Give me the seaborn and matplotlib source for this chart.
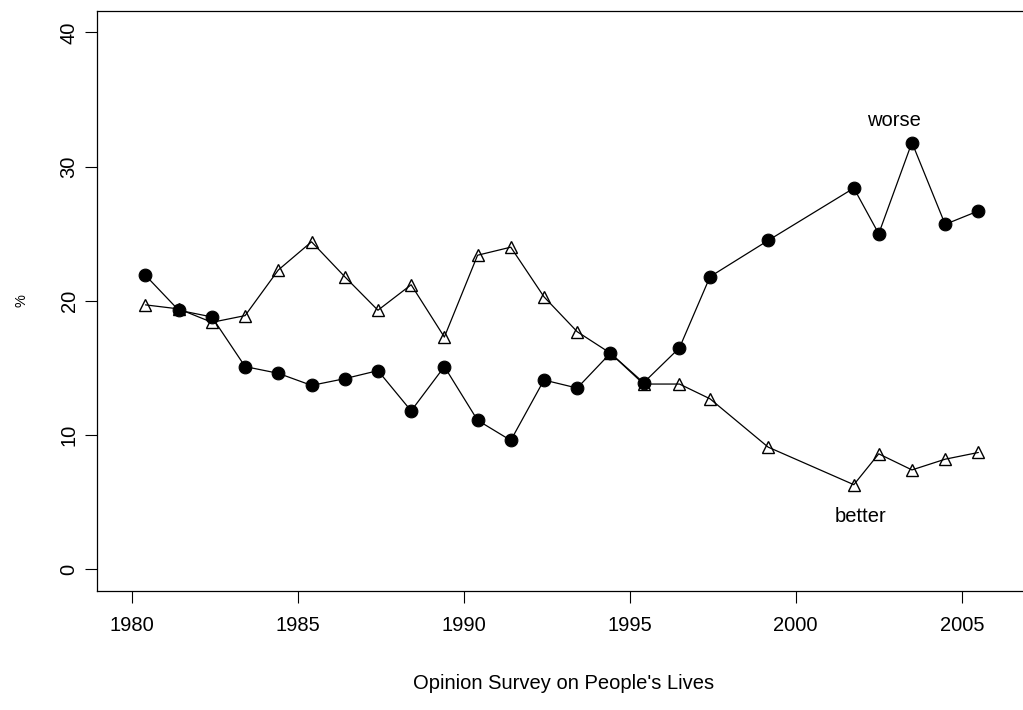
import matplotlib
matplotlib.use("Agg")
import matplotlib.pyplot as plt
import pandas as pd
import seaborn as sns

# Survey timing (fractional year of each survey round)
survey_time = [1980.42, 1981.42, 1982.42, 1983.42, 1984.42, 1985.42, 1986.42,
               1987.42, 1988.42, 1989.42, 1990.42, 1991.42, 1992.42, 1993.42,
               1994.42, 1995.42, 1996.50, 1997.42, 1999.17, 2001.75, 2002.50,
               2003.50, 2004.50, 2005.50]

# Share (%) answering that life got worse / better
worse = [21.9, 19.3, 18.8, 15.1, 14.6, 13.7, 14.2, 14.8, 11.8, 15.1, 11.1, 9.6,
         14.1, 13.5, 16.1, 13.9, 16.5, 21.8, 24.5, 28.4, 25.0, 31.8, 25.7, 26.7]
better = [19.7, 19.4, 18.4, 18.9, 22.3, 24.4, 21.8, 19.3, 21.2, 17.3, 23.4, 24.0,
          20.3, 17.7, 16.1, 13.8, 13.8, 12.7, 9.1, 6.3, 8.6, 7.4, 8.2, 8.7]

year_ticks = [1980, 1985, 1990, 1995, 2000, 2005]
pct_ticks = [0, 10, 20, 30, 40]

df = pd.DataFrame({"time": survey_time, "worse": worse, "better": better})

sns.set_theme(style="white")
plt.rcParams["font.family"] = ["Liberation Sans", "DejaVu Sans"]
plt.rcParams.update({
    "text.color": "black",
    "axes.labelcolor": "black",
    "xtick.color": "black",
    "ytick.color": "black",
    "axes.edgecolor": "black",
})

W, H = 1023, 710
fig = plt.figure(figsize=(W / 100, H / 100), dpi=100)
left, right, top, bottom = 97, 1029.5, 11, 590.7
ax = fig.add_axes([left / W, 1 - bottom / H, (right - left) / W, (bottom - top) / H])

sns.lineplot(data=df, x="time", y="better", ax=ax, color="black", linewidth=0.9,
             marker="^", markersize=8.6, markerfacecolor="none",
             markeredgecolor="black", markeredgewidth=1.0)
sns.lineplot(data=df, x="time", y="worse", ax=ax, color="black", linewidth=0.9,
             marker="o", markersize=9.2, markerfacecolor="black",
             markeredgecolor="black")

ax.set_xlim(1978.96, 2007.04)
ax.set_ylim(-1.6, 41.6)
ax.set_xticks(year_ticks)
ax.set_yticks(pct_ticks)
ax.set_xticklabels([str(y) for y in year_ticks], fontsize=14.5)
ax.set_yticklabels([str(p) for p in pct_ticks], fontsize=14.5, rotation=90,
                   va="center")

ax.tick_params(axis="both", which="major", direction="out", length=8.3,
               width=0.8, color="black", labelcolor="black", left=True, bottom=True)
ax.tick_params(axis="x", pad=10)
ax.tick_params(axis="y", pad=5)

for side in ["left", "bottom", "top", "right"]:
    ax.spines[side].set_visible(True)
    ax.spines[side].set_color("black")
    ax.spines[side].set_linewidth(0.9)

ax.set_xlabel("Opinion Survey on People's Lives", fontsize=14.5, labelpad=28,
              color="black")
ax.set_ylabel("%", fontsize=10.5, labelpad=22, color="black")

ax.text(2002.97, 33.46, "worse", fontsize=14.5, ha="center", va="center",
        color="black")
ax.text(2001.95, 3.9, "better", fontsize=14.5, ha="center", va="center",
        color="black")

fig.savefig("out.png", dpi=100)
